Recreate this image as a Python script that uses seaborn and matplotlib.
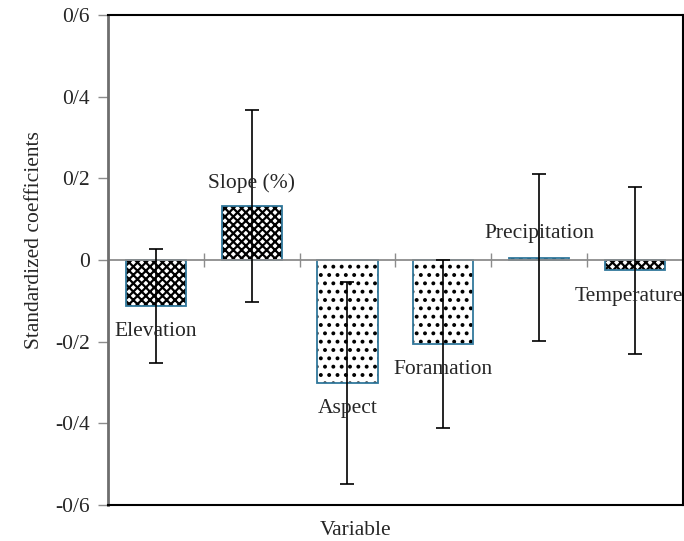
import numpy as np
import pandas as pd
import matplotlib
matplotlib.use("Agg")
import matplotlib.pyplot as plt
import seaborn as sns

# -----------------------------
# Data
# -----------------------------
variables = ["Elevation", "Slope (%)", "Aspect", "Foramation", "Precipitation", "Temperature"]
coefficients = [-0.113, 0.133, -0.301, -0.206, 0.006, -0.025]
errors = [0.140, 0.235, 0.248, 0.206, 0.205, 0.205]
label_y = [-0.174, 0.188, -0.363, -0.268, 0.066, -0.088]
label_dx = [0, 0, 0, 0, 0, -0.06]
hatches = ["xxxx", "xxxx", "..", "..", "..", "xxxx"]
y_ticks = [-0.6, -0.4, -0.2, 0, 0.2, 0.4, 0.6]
y_tick_labels = ["-0/6", "-0/4", "-0/2", "0", "0/2", "0/4", "0/6"]

df = pd.DataFrame({"Variable": variables, "coef": coefficients})

sns.set_style("white")
plt.rcParams["font.family"] = ["Liberation Serif", "DejaVu Serif"]
plt.rcParams["hatch.linewidth"] = 1.6

FS = 15.5

fig = plt.figure(figsize=(6.84, 5.41), dpi=100)
ax = fig.add_axes([0.158, 0.0665, 0.84, 0.9055])

sns.barplot(data=df, x="Variable", y="coef", ax=ax, width=0.63,
            color="white", edgecolor="#31789c", linewidth=1.3)
for bar, h in zip(ax.patches, hatches):
    bar.set_facecolor("white")
    bar.set_hatch(h)
    bar.set_edgecolor("#31789c")
    # hatch colour follows the edge colour by default; make it black
    bar._hatch_color = matplotlib.colors.to_rgba("black")

x = np.arange(len(variables))
ax.errorbar(x, coefficients, yerr=errors, fmt="none", ecolor="black",
            elinewidth=1.2, capsize=4.7, capthick=1.2, zorder=5)

# zero line with category boundary ticks
ax.axhline(0, color="#8c8c8c", lw=1.3, zorder=1)
bounds = np.arange(len(variables) + 1) - 0.5
ax.plot(bounds, np.zeros_like(bounds), ls="none", marker="|", ms=10,
        mew=1.0, color="#8c8c8c", zorder=1)

# bar labels
for xi, name, ly, dx in zip(x, variables, label_y, label_dx):
    ax.text(xi + dx, ly, name, ha="center", va="center", fontsize=FS, zorder=6)

ax.set_xlim(-0.5, 5.5)
ax.set_ylim(-0.6, 0.6)
ax.set_yticks(y_ticks)
ax.set_yticklabels(y_tick_labels, fontsize=FS)
ax.set_xticks([])
ax.set_xlabel("Variable", fontsize=FS)
ax.set_ylabel("Standardized coefficients", fontsize=FS)
ax.xaxis.set_label_coords(0.43, -0.033)
ax.yaxis.set_label_coords(-0.112, 0.54)

ax.tick_params(axis="y", which="both", left=True, length=7, width=1,
               color="#8c8c8c", pad=6)
ax.spines["left"].set_color("#6e6e6e")
ax.spines["left"].set_linewidth(2)
for s in ["top", "bottom", "right"]:
    ax.spines[s].set_color("black")
    ax.spines[s].set_linewidth(1.5)

fig.savefig("out.png", dpi=100)
